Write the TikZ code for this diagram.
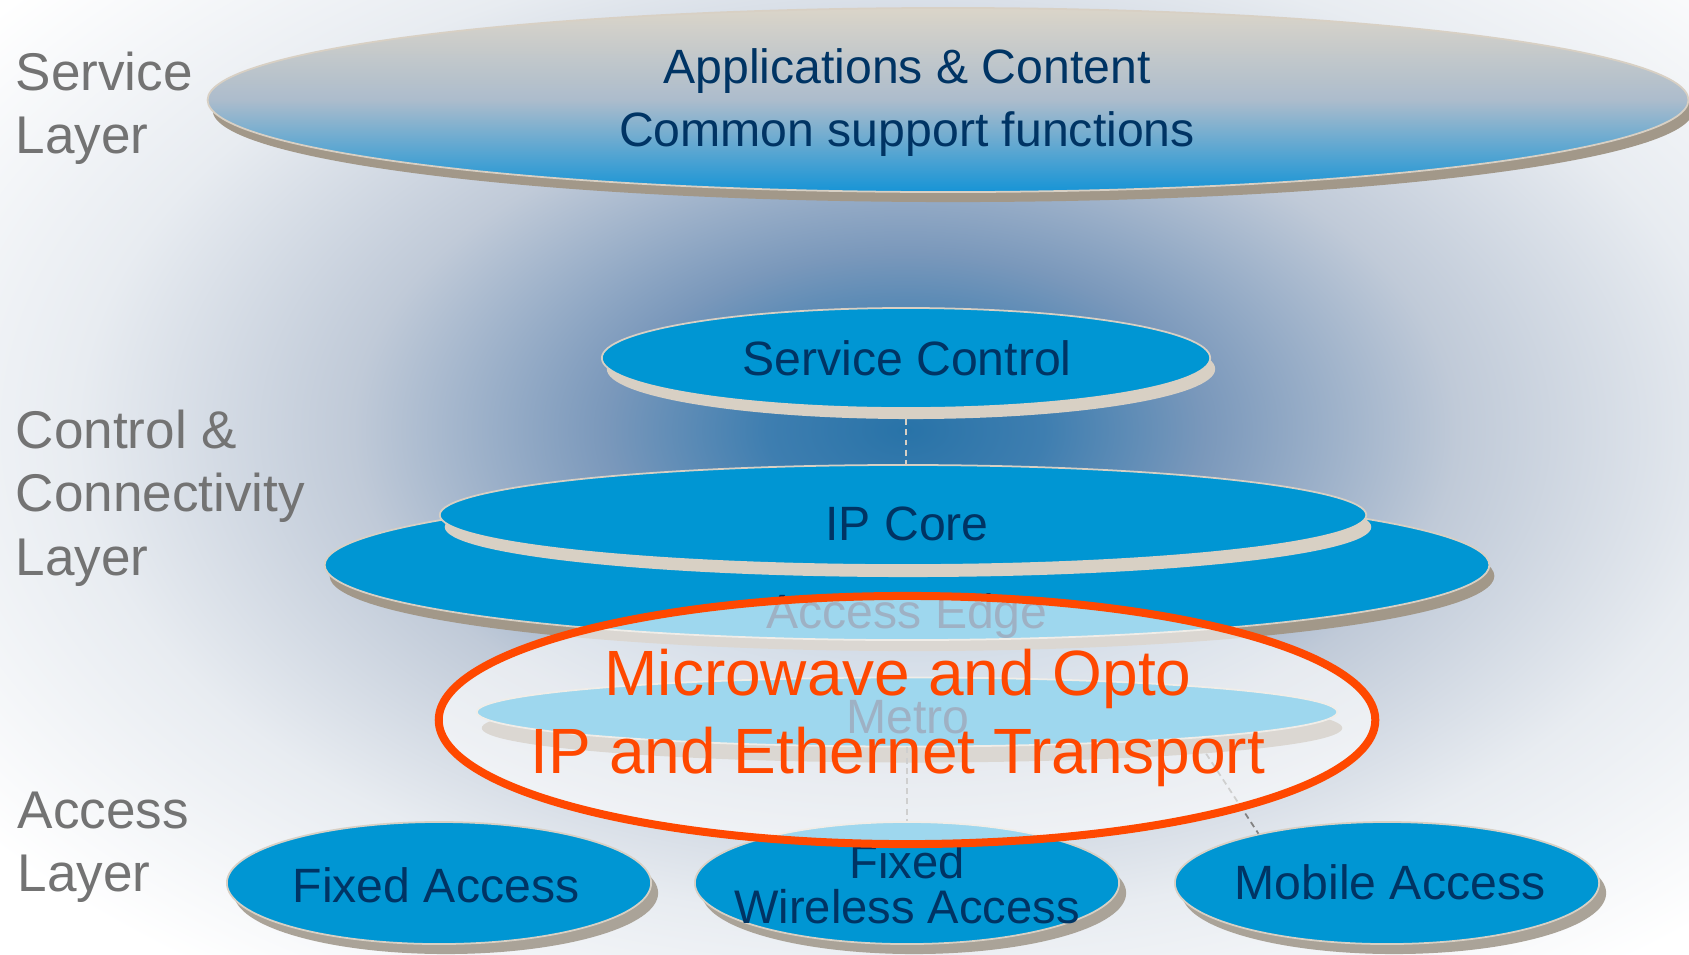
\documentclass[tikz,border=0pt]{standalone}
\usepackage{fontspec}
\setmainfont{Liberation Sans}
\usetikzlibrary{shapes.geometric}

\definecolor{navy}{RGB}{0,52,100}
\definecolor{labelgray}{RGB}{115,115,115}
\definecolor{discblue}{RGB}{0,150,211}
\definecolor{rimbeige}{RGB}{216,208,196}
\definecolor{rimdarkc}{RGB}{162,152,137}
\definecolor{rimgreyc}{RGB}{170,163,152}
\definecolor{linkgray}{RGB}{130,130,130}
\definecolor{ringred}{RGB}{255,72,0}
\definecolor{apptop}{RGB}{219,213,201}
\definecolor{appmid}{RGB}{172,188,204}
\definecolor{appbot}{RGB}{22,148,214}
\definecolor{glowcore}{RGB}{40,115,168}
\definecolor{glowmid}{RGB}{62,126,176}
\definecolor{glowsoft}{RGB}{122,152,187}
\definecolor{glowpale}{RGB}{192,202,216}
\definecolor{glowfaint}{RGB}{232,236,241}

\pgfdeclareradialshading{glowshade}{\pgfpoint{0bp}{0bp}}{%
  color(0bp)=(glowcore); color(3bp)=(glowmid); color(6.5bp)=(glowsoft);
  color(12bp)=(glowpale); color(18bp)=(glowfaint); color(25bp)=(white); color(50bp)=(white)}

\newcommand{\discfont}{\fontsize{13.7pt}{17.9pt}\selectfont}
\newcommand{\layerfont}{\fontsize{15.1pt}{18.1pt}\selectfont}
\newcommand{\redfont}{\fontsize{18.2pt}{22.2pt}\selectfont}

\tikzset{
  disc/.style={ellipse, inner sep=0pt, fill=discblue, draw=rimbeige, line width=0.5pt},
  rimlight/.style={ellipse, inner sep=0pt, fill=rimbeige},
  rimdark/.style={ellipse, inner sep=0pt, fill=rimdarkc},
  rimgrey/.style={ellipse, inner sep=0pt, fill=rimgreyc},
  disctext/.style={inner sep=0pt, text=navy, font=\discfont, align=center},
  layerlabel/.style={anchor=north west, inner sep=0pt, text=labelgray, font=\layerfont, align=left},
  dashlink/.style={dash pattern=on 1.7pt off 1.2pt, line width=0.5pt},
  ring/.style={ellipse, inner sep=0pt, draw=ringred, line width=0.08cm, fill=white, fill opacity=0.62},
}

\begin{document}
\begin{tikzpicture}[x=0.01cm,y=-0.01cm]
    \useasboundingbox (0,0) rectangle (1689,954);
    % Background glow
    \begin{scope}
        \clip (0,0) rectangle (1689,954);
        \fill[white] (0,0) rectangle (1689,954);
        \shade[shading=glowshade] (905,430) ellipse [x radius=11.5cm, y radius=6.8cm];
    \end{scope}

    % Service layer
    \node[rimdark, minimum width=14.8cm, minimum height=1.84cm] (appsrim) at (953,110) {};
    \node[ellipse, inner sep=0pt, minimum width=14.8cm, minimum height=1.84cm,
          top color=apptop, bottom color=appbot, middle color=appmid,
          draw=rimbeige, line width=0.5pt] (apps) at (948,100) {};
    \node[disctext] (appstext) at (907,103) {Applications \& Content\\Common support functions};

    % Control & connectivity layer
    \node[rimdark, minimum width=11.64cm, minimum height=1.5cm] (edgerim) at (912,576) {};
    \node[disc, minimum width=11.64cm, minimum height=1.5cm] (edge) at (907,565) {};
    \node[disctext] (edgetext) at (907,616) {Access Edge};
    \node[rimlight, minimum width=9.26cm, minimum height=1cm] (corerim) at (908,527) {};
    \node[disc, minimum width=9.26cm, minimum height=1cm] (core) at (903,515) {};
    \node[disctext] (coretext) at (907,524) {IP Core};
    \node[rimlight, minimum width=6.08cm, minimum height=1cm] (scrim) at (911,369) {};
    \node[disc, minimum width=6.08cm, minimum height=1cm] (sc) at (906,358) {};
    \node[disctext] (sctext) at (907,358) {Service Control};
    \draw[dashlink, rimbeige] (sc.south) -- (sc.south |- core.north);

    % Metro
    \node[rimdark, minimum width=8.6cm, minimum height=0.69cm] (metrorim) at (912,728) {};
    \node[disc, minimum width=8.6cm, minimum height=0.69cm] (metro) at (907,712) {};
    \node[disctext] (metrotext) at (908,717) {Metro};

    % Access layer
    \node[rimgrey, minimum width=4.24cm, minimum height=1.22cm] (farim) at (446,893) {};
    \node[disc, minimum width=4.24cm, minimum height=1.22cm] (fa) at (439,883) {};
    \node[disctext] (fatext) at (436,885) {Fixed Access};
    \node[rimgrey, minimum width=4.24cm, minimum height=1.22cm] (fwarim) at (914,893) {};
    \node[disc, minimum width=4.24cm, minimum height=1.22cm] (fwa) at (907,883) {};
    \node[disctext, font=\fontsize{13.4pt}{12.8pt}\selectfont] (fwatext) at (907,884) {Fixed\\Wireless Access};
    \node[rimgrey, minimum width=4.24cm, minimum height=1.22cm] (marim) at (1394,893) {};
    \node[disc, minimum width=4.24cm, minimum height=1.22cm] (ma) at (1387,883) {};
    \node[disctext] (matext) at (1390,882) {Mobile Access};
    \draw[dashlink, linkgray] (metro.south) -- (metro.south |- fwa.north);
    \draw[dashlink, linkgray] (metrorim.-5.2) -- (ma.159);

    % Transport ring
    \node[ring, minimum width=9.36cm, minimum height=2.48cm] (transport) at (907,720) {};
    \node[inner sep=0pt, text=ringred, font=\redfont, align=center] (transporttext) at (898,718)
        {Microwave and Opto\\IP and Ethernet Transport};

    % Layer labels
    \node[layerlabel] (servicelabel) at (15,51) {Service\\Layer};
    \node[layerlabel] (controllabel) at (15,409) {Control \&\\Connectivity\\Layer};
    \node[layerlabel] (accesslabel) at (17,791) {Access\\Layer};
\end{tikzpicture}
\end{document}
